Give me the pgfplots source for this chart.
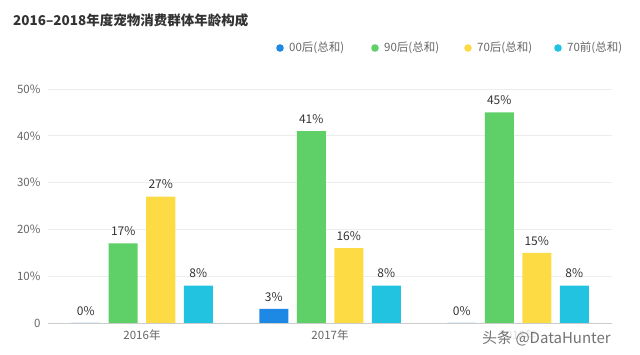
\documentclass[border=0pt]{standalone}
\usepackage{fontspec}
\setmainfont{Noto Sans CJK SC}
\usepackage{pgfplots}
\pgfplotsset{compat=1.18}
\definecolor{cA}{HTML}{1E88E5}
\definecolor{cB}{HTML}{5FD068}
\definecolor{cC}{HTML}{FDDB45}
\definecolor{cD}{HTML}{22C3E0}
\definecolor{txt}{HTML}{333333}
\definecolor{tick}{HTML}{666666}
\begin{document}
\begin{tikzpicture}[x=1pt,y=1pt]
\useasboundingbox (-48,-32) rectangle (592,323);
\begin{axis}[at={(0,0)}, anchor=south west, scale only axis,
  width=564pt, height=234pt,
  ybar=8.5pt, bar width=29pt,
  xmin=-0.5, xmax=2.5, ymin=0, ymax=50,
  xtick={0,1,2}, xticklabels={2016年,2017年,2018年},
  ytick={0,10,20,30,40,50}, yticklabels={0,10\%,20\%,30\%,40\%,50\%},
  axis x line*=bottom, axis y line*=left,
  y axis line style={draw=none},
  x axis line style={draw=black!20, line width=0.8pt},
  ymajorgrids, grid style={draw=black!7, line width=0.6pt},
  major tick length=0pt,
  tick label style={font=\fontsize{11.5}{13}\selectfont, text=tick},
  yticklabel style={xshift=-4pt},
  xticklabel style={yshift=-3pt},
  /pgf/number format/assume math mode=true,
  nodes near coords={\pgfmathprintnumber{\pgfplotspointmeta}\%},
  every node near coord/.append style={font=\fontsize{12}{14}\selectfont, text=txt, yshift=4pt},
  clip=false]
\addplot[fill=cA, draw=none] coordinates {(0,0) (1,3) (2,0)};
\addplot[fill=cB, draw=none] coordinates {(0,17) (1,41) (2,45)};
\addplot[fill=cC, draw=none] coordinates {(0,27) (1,16) (2,15)};
\addplot[fill=cD, draw=none] coordinates {(0,8) (1,8) (2,8)};
\end{axis}
\node[anchor=west, font=\fontsize{13.5}{15}\selectfont\bfseries, text=txt, inner sep=0] at (-35,303) {2016–2018年度宠物消费群体年龄构成};
\foreach \cx/\col/\lab in {232/cA/00后(总和), 327/cB/90后(总和), 420/cC/70后(总和), 510/cD/70前(总和)}{
  \fill[\col] (\cx,275) circle (3.8);
  \node[anchor=west, inner sep=0, font=\fontsize{11.5}{13}\selectfont, text=tick] at (\cx+9,275) {\lab};
}
\node[anchor=west, inner sep=1pt, fill=white, fill opacity=0.8, text opacity=1, text=black!55, font=\fontsize{15}{17}\selectfont] at (433,-15) {头条 @DataHunter};
\end{tikzpicture}
\end{document}
